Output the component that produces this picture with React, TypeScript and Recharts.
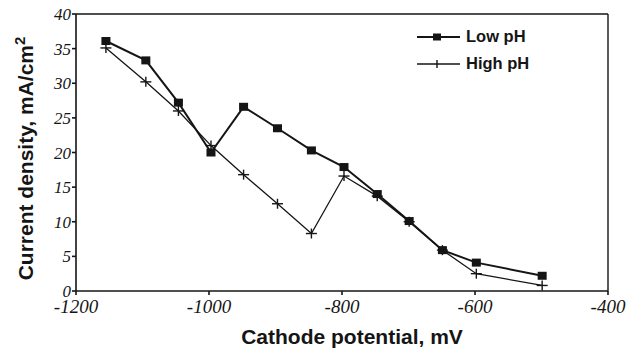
import { LineChart, Line, XAxis, YAxis, ReferenceLine } from "recharts";

const potentials = [-1155, -1095, -1046, -997, -948, -897, -846, -797, -747, -699, -649, -598, -499];
const lowPH = [36.1, 33.3, 27.2, 20.0, 26.6, 23.5, 20.3, 17.9, 14.0, 10.1, 5.9, 4.1, 2.2];
const highPH = [35.1, 30.2, 26.0, 21.0, 16.8, 12.6, 8.3, 16.6, 13.7, 10.0, 5.9, 2.5, 0.8];
const xTicks = [-1200, -1000, -800, -600, -400];
const yTicks = [0, 5, 10, 15, 20, 25, 30, 35, 40];

const data = potentials.map((x, i) => ({ x, low: lowPH[i], high: highPH[i] }));

const ink = "#151515";
const sans = "Liberation Sans, Arial, sans-serif";
const serif = "Liberation Serif, Times New Roman, serif";

function SquareDot(props: any) {
  const { cx, cy } = props;
  if (cx == null || cy == null) return null;
  return <rect x={cx - 4.5} y={cy - 4} width={9} height={8} fill={ink} />;
}

function PlusDot(props: any) {
  const { cx, cy } = props;
  if (cx == null || cy == null) return null;
  return (
    <g stroke={ink} strokeWidth={1.4}>
      <line x1={cx - 5.5} y1={cy} x2={cx + 5.5} y2={cy} />
      <line x1={cx} y1={cy - 5} x2={cx} y2={cy + 5} />
    </g>
  );
}

function XTick(props: any) {
  const { x, y, payload } = props;
  return (
    <g transform={`translate(${x},${y})`}>
      <text x={0} y={14} textAnchor="middle" fill={ink} fontFamily={serif} fontStyle="italic" fontSize={19}>
        {String(payload.value)}
      </text>
    </g>
  );
}

function YTick(props: any) {
  const { x, y, payload } = props;
  return (
    <g transform={`translate(${x},${y})`}>
      <text x={1} y={6} textAnchor="end" fill={ink} fontFamily={serif} fontStyle="italic" fontSize={17}>
        {String(payload.value)}
      </text>
    </g>
  );
}

function LegendBox() {
  const row = (label: string, square: boolean, width: number) => (
    <div style={{ display: "flex", alignItems: "center", height: 27 }}>
      <svg width={46} height={14}>
        <line x1={1} y1={7} x2={44} y2={7} stroke={ink} strokeWidth={width} />
        {square ? (
          <rect x={17} y={3.5} width={8} height={7} fill={ink} />
        ) : (
          <line x1={21} y1={3} x2={21} y2={11} stroke={ink} strokeWidth={1.4} />
        )}
      </svg>
      <span style={{ marginLeft: 4, fontFamily: sans, fontWeight: 700, fontSize: 16.5, color: ink }}>{label}</span>
    </div>
  );
  return (
    <div style={{ position: "absolute", top: 23, left: 416 }}>
      {row("Low pH", true, 2)}
      {row("High pH", false, 1.3)}
    </div>
  );
}

function YTitle() {
  return (
    <text
      transform="translate(33,158.5) rotate(-90)"
      textAnchor="middle"
      fill={ink}
      style={{ fontFamily: sans, fontWeight: 700, fontSize: 21 }}
    >
      Current density, mA/cm
      <tspan dy={-8} style={{ fontSize: 15 }}>2</tspan>
    </text>
  );
}

function XTitle() {
  return (
    <text
      x={352}
      y={344}
      textAnchor="middle"
      fill={ink}
      style={{ fontFamily: sans, fontWeight: 700, fontSize: 21 }}
    >
      Cathode potential, mV
    </text>
  );
}

export default function App() {
  return (
    <div style={{ position: "relative", width: 635, height: 349, background: "#fff" }}>
      <style>{"body{margin:0}"}</style>
      <LineChart width={635} height={349} data={data} margin={{ top: 14, right: 27, left: 0, bottom: 0 }}>
        <XAxis
          dataKey="x"
          type="number"
          domain={[-1200, -400]}
          ticks={xTicks}
          height={58}
          tickSize={4}
          tickMargin={4}
          stroke={ink}
          strokeWidth={1.6}
          tick={XTick}
          label={{ content: <XTitle /> }}
        />
        <YAxis
          type="number"
          domain={[0, 40]}
          ticks={yTicks}
          width={76}
          tickSize={4}
          tickMargin={2}
          stroke={ink}
          strokeWidth={1.6}
          tick={YTick}
          label={{ content: <YTitle /> }}
        />
        <ReferenceLine y={40} stroke={ink} strokeWidth={1.6} />
        <ReferenceLine x={-400} stroke={ink} strokeWidth={1.4} />
        <Line
          dataKey="low"
          name="Low pH"
          stroke={ink}
          strokeWidth={2}
          dot={<SquareDot />}
          activeDot={false}
          isAnimationActive={false}
        />
        <Line
          dataKey="high"
          name="High pH"
          stroke={ink}
          strokeWidth={1.3}
          dot={<PlusDot />}
          activeDot={false}
          isAnimationActive={false}
        />
      </LineChart>
      <LegendBox />
    </div>
  );
}
